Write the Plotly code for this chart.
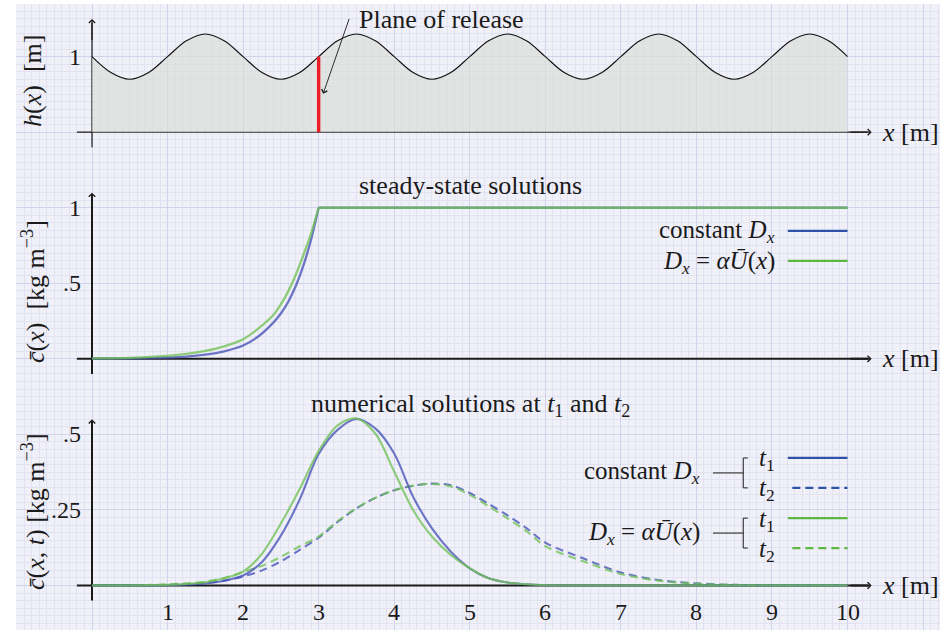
import plotly.graph_objects as go

# ---------------- data ----------------
# bed height h(x) [m]
h_x = [0, 0.25, 0.5, 0.75, 1, 1.25, 1.5, 1.75, 2, 2.25, 2.5, 2.75, 3, 3.25, 3.5, 3.75,
       4, 4.25, 4.5, 4.75, 5, 5.25, 5.5, 5.75, 6, 6.25, 6.5, 6.75, 7, 7.25, 7.5, 7.75,
       8, 8.25, 8.5, 8.75, 9, 9.25, 9.5, 9.75, 10]
h_val = [1.00, 0.79, 0.70, 0.79, 1.00, 1.21, 1.30, 1.21,
         1.00, 0.79, 0.70, 0.79, 1.00, 1.21, 1.30, 1.21,
         1.00, 0.79, 0.70, 0.79, 1.00, 1.21, 1.30, 1.21,
         1.00, 0.79, 0.70, 0.79, 1.00, 1.21, 1.30, 1.21,
         1.00, 0.79, 0.70, 0.79, 1.00, 1.21, 1.30, 1.21,
         1.00]
release_x = 3.0
release_h = 1.0

# steady-state concentration c(x) [kg m^-3]
ss_x = [0, 0.5, 1.0, 1.25, 1.5, 1.75, 2.0, 2.2, 2.4, 2.5, 2.6, 2.7, 2.8, 2.9, 3.0, 10.0]
ss_const = [0.001, 0.003, 0.009, 0.015, 0.028, 0.05, 0.088, 0.148, 0.24, 0.30, 0.38,
            0.485, 0.62, 0.79, 1.0, 1.0]
ss_var = [0.003, 0.007, 0.02, 0.033, 0.053, 0.083, 0.13, 0.2, 0.29, 0.36, 0.45,
          0.56, 0.69, 0.83, 1.0, 1.0]

# numerical solutions c(x, t) at t1 and t2
num_x = [0, 0.5, 1.0, 1.25, 1.5, 1.75, 2.0, 2.25, 2.5, 2.75, 3.0, 3.25, 3.5, 3.75, 4.0,
         4.25, 4.5, 4.75, 5.0, 5.25, 5.5, 5.75, 6.0, 6.5, 7.0, 7.5, 8.0, 8.5, 9.0, 10.0]
t1_const = [0, 0, 0.001, 0.003, 0.007, 0.016, 0.033, 0.078, 0.165, 0.285, 0.435, 0.515,
            0.551, 0.52, 0.437, 0.294, 0.189, 0.112, 0.057, 0.024, 0.01, 0.004, 0.001,
            0, 0, 0, 0, 0, 0, 0]
t1_var = [0, 0, 0.002, 0.005, 0.011, 0.024, 0.046, 0.105, 0.205, 0.32, 0.445, 0.53,
          0.553, 0.503, 0.377, 0.25, 0.162, 0.101, 0.057, 0.024, 0.01, 0.004, 0.001,
          0, 0, 0, 0, 0, 0, 0]
t2_const = [0, 0, 0.002, 0.004, 0.008, 0.016, 0.03, 0.05, 0.08, 0.118, 0.158, 0.21,
            0.255, 0.29, 0.315, 0.33, 0.337, 0.332, 0.306, 0.27, 0.232, 0.19, 0.142,
            0.09, 0.043, 0.018, 0.007, 0.002, 0.001, 0]
t2_var = [0, 0, 0.004, 0.007, 0.013, 0.025, 0.045, 0.065, 0.095, 0.13, 0.162, 0.212,
          0.256, 0.29, 0.315, 0.33, 0.336, 0.328, 0.3, 0.262, 0.222, 0.18, 0.13,
          0.08, 0.038, 0.016, 0.006, 0.002, 0.001, 0]

# tick labels
x_ticks = [1, 2, 3, 4, 5, 6, 7, 8, 9, 10]
h_ticks, h_tick_text = [1], ["1"]
ss_ticks, ss_tick_text = [0.5, 1], [".5", "1"]
num_ticks, num_tick_text = [0.25, 0.5], [".25", ".5"]

# ---------------- geometry & style ----------------
W, H = 940, 630
UNIT = 75.55            # pixels per grid square
X0_PX = 92.0            # pixel column of x = 0
GRID_LEFT, GRID_TOP = 16.0, 4.0
GRID_ROW0 = 585.5       # pixel row of a major grid line

# baseline row and grid squares per data unit for each panel
PANELS = {
    "h":   dict(base=132.2, spu=1.0, y="y2"),
    "ss":  dict(base=358.85, spu=2.0, y="y3"),
    "num": dict(base=585.5, spu=4.0, y="y4"),
}

FONT = "Liberation Serif, Times New Roman, serif"
FS = 26          # text size
FS_KEY = 25      # legend label size
FS_TICK = 24     # tick label size
INK = "#1a1a1a"
BLUE_KEY, GREEN_KEY = "#2f52a8", "#5cb843"
BLUE_LINE, GREEN_LINE = "rgba(70,82,182,0.78)", "rgba(112,194,86,0.78)"
DASH = "8px,5px"
BG = "#f0f0f8"
MINOR = "#e2e2f1"
MAJOR = "#d2d2ea"


def paper(px, py):
    return px / W, 1 - py / H


def yrange(key):
    p = PANELS[key]
    s = UNIT * p["spu"]
    return [(p["base"] - H) / s, p["base"] / s]


def yref_of(key):
    return PANELS[key]["y"]


fig = go.Figure()

# empty trace so the graph-paper subplot exists
fig.add_trace(go.Scatter(x=[], y=[], xaxis="x", yaxis="y", showlegend=False))

# ---- panel 1: bed profile ----
fig.add_trace(go.Scatter(x=h_x, y=h_val, xaxis="x2", yaxis="y2", mode="lines",
                         line=dict(color="#111111", width=1.1, shape="spline", smoothing=1),
                         fill="tozeroy", fillcolor="rgba(218,221,214,0.62)",
                         showlegend=False, hoverinfo="skip"))
fig.add_trace(go.Scatter(x=[release_x, release_x], y=[0, release_h], xaxis="x2", yaxis="y2",
                         mode="lines", line=dict(color="#ee1c24", width=3.4),
                         showlegend=False, hoverinfo="skip"))

# ---- panel 2: steady-state (smooth rise up to the release plane, then flat) ----
k_rel = ss_x.index(release_x)
for yy, col in [(ss_const, BLUE_LINE), (ss_var, GREEN_LINE)]:
    fig.add_trace(go.Scatter(x=ss_x[:k_rel + 1], y=yy[:k_rel + 1], xaxis="x2", yaxis="y3",
                             mode="lines", line=dict(color=col, width=2.3, shape="spline",
                                                     smoothing=0.8),
                             showlegend=False))
    fig.add_trace(go.Scatter(x=ss_x[k_rel:], y=yy[k_rel:], xaxis="x2", yaxis="y3",
                             mode="lines", line=dict(color=col, width=2.3),
                             showlegend=False))

# ---- panel 3: numerical solutions ----
for yy, col, dash in [(t2_const, BLUE_LINE, DASH), (t2_var, GREEN_LINE, DASH),
                      (t1_const, BLUE_LINE, "solid"), (t1_var, GREEN_LINE, "solid")]:
    fig.add_trace(go.Scatter(x=num_x, y=yy, xaxis="x2", yaxis="y4", mode="lines",
                             line=dict(color=col, width=2.1, dash=dash,
                                       shape="spline", smoothing=0.9),
                             showlegend=False))

shapes = []
annotations = []

# graph-paper background
shapes.append(dict(type="rect", xref="paper", yref="paper", layer="below",
                   x0=GRID_LEFT / W, x1=1, y0=0, y1=1 - GRID_TOP / H,
                   fillcolor=BG, line=dict(width=0)))


def text(px, py, s, size=FS, xanchor="center", angle=0):
    x, y = paper(px, py)
    annotations.append(dict(x=x, y=y, xref="paper", yref="paper", text=s, showarrow=False,
                            xanchor=xanchor, yanchor="middle", textangle=angle,
                            font=dict(family=FONT, size=size, color=INK)))


def arrow_head(xref, yref, x, y, ax, ay, width, size):
    annotations.append(dict(x=x, y=y, ax=ax, ay=ay, xref=xref, yref=yref,
                            axref=xref, ayref=yref, text="", showarrow=True,
                            arrowhead=4, arrowsize=size, arrowwidth=width,
                            arrowcolor=INK, standoff=0))


# axes with arrow tips
X_LEFT, X_TIP = -0.2, 10.32
axis_spec = {"h": (-0.2, 1.5, 1.2, 1.0), "ss": (-0.1, 1.1, 2.0, 0.62),
             "num": (-0.05, 0.55, 2.0, 0.62)}
for key, (ybot, ytip, lw, hs) in axis_spec.items():
    yr = yref_of(key)
    unit = 1.0 / PANELS[key]["spu"]
    shapes.append(dict(type="line", xref="x2", yref=yr, layer="below",
                       x0=X_LEFT, x1=X_TIP - 0.05, y0=0, y1=0, line=dict(color=INK, width=lw)))
    shapes.append(dict(type="line", xref="x2", yref=yr, layer="below",
                       x0=0, x1=0, y0=ybot, y1=ytip - 0.05 * unit, line=dict(color=INK, width=lw)))
    arrow_head("x2", yr, X_TIP, 0, X_TIP - 0.3, 0, lw, hs)
    arrow_head("x2", yr, 0, ytip, 0, ytip - 0.3 * unit, lw, hs)
    text(880, PANELS[key]["base"], "<i>x</i>\u00a0[m]", xanchor="left")

# y tick labels
for key, vals, labs in [("h", h_ticks, h_tick_text), ("ss", ss_ticks, ss_tick_text),
                        ("num", num_ticks, num_tick_text)]:
    for v, lab in zip(vals, labs):
        annotations.append(dict(x=0, y=v, xref="x2", yref=yref_of(key), text=lab,
                                showarrow=False, xanchor="right", yanchor="middle",
                                xshift=-9, font=dict(family=FONT, size=FS_TICK, color=INK)))
# x tick labels
for v in x_ticks:
    annotations.append(dict(x=v, y=0, xref="x2", yref="y4", text=str(v), showarrow=False,
                            xanchor="center", yanchor="middle", yshift=-26,
                            font=dict(family=FONT, size=FS_TICK, color=INK)))

# axis titles
text(33, 81, "<i>h</i>(<i>x</i>)\u00a0\u00a0[m]", angle=-90)
text(33, 292, "<i>c\u0304</i>(<i>x</i>)\u00a0\u00a0[kg m<sup>\u22123</sup>]", angle=-90)
text(33, 512, "<i>c\u0304</i>(<i>x</i>, <i>t</i>)\u00a0[kg m<sup>\u22123</sup>]", angle=-90)

# panel titles
text(470, 185, "steady-state solutions")
text(470, 405, "numerical solutions at <i>t</i><sub>1</sub> and <i>t</i><sub>2</sub>")

# release annotation
annotations.append(dict(x=3.06, y=0.51, ax=3.41, ay=1.52, xref="x2", yref="y2",
                        axref="x2", ayref="y2", text="", showarrow=True, arrowhead=4,
                        arrowsize=1.3, arrowwidth=0.9, arrowcolor=INK, standoff=0))
text(357, 19, "Plane of release", xanchor="left")

# legend, panel 2
DX = "<i>D</i><sub><i>x</i></sub>"
DXU = DX + " = <i>\u03b1\u016a</i>(<i>x</i>)"
text(777, 231, "constant " + DX, size=FS_KEY, xanchor="right")
text(777, 262, DXU, size=FS_KEY, xanchor="right")
KEY_X0, KEY_X1 = 9.21, 10.0
for yv, col in [(0.847, BLUE_KEY), (0.649, GREEN_KEY)]:
    shapes.append(dict(type="line", xref="x2", yref="y3", x0=KEY_X0, x1=KEY_X1,
                       y0=yv, y1=yv, line=dict(color=col, width=2.2)))

# legend, panel 3 (bracketed t1 / t2 keys)
groups = [("constant " + DX, BLUE_KEY, 0.422, 0.323), (DXU, GREEN_KEY, 0.223, 0.124)]
for label, col, y1v, y2v in groups:
    mid = (y1v + y2v) / 2
    mid_px = PANELS["num"]["base"] - mid * UNIT * 4
    text(702, mid_px, label, size=FS_KEY, xanchor="right")
    shapes.append(dict(type="line", xref="x2", yref="y4", x0=8.22, x1=8.62, y0=mid, y1=mid,
                       line=dict(color=INK, width=1)))
    shapes.append(dict(type="line", xref="x2", yref="y4", x0=8.62, x1=8.62, y0=y2v, y1=y1v,
                       line=dict(color=INK, width=1)))
    for yv, tl, dash, xs in [(y1v, "<i>t</i><sub>1</sub>", "solid", KEY_X0),
                             (y2v, "<i>t</i><sub>2</sub>", DASH, 9.27)]:
        shapes.append(dict(type="line", xref="x2", yref="y4", x0=8.62, x1=8.68, y0=yv, y1=yv,
                           line=dict(color=INK, width=1)))
        shapes.append(dict(type="line", xref="x2", yref="y4", x0=xs, x1=KEY_X1, y0=yv, y1=yv,
                           line=dict(color=col, width=2.2, dash=dash)))
        ypx = PANELS["num"]["base"] - yv * UNIT * 4
        text(757, ypx + 2, tl, size=FS_KEY, xanchor="left")

hidden = dict(showgrid=False, zeroline=False, showline=False, showticklabels=False,
              ticks="", fixedrange=True)

fig.update_layout(
    width=W, height=H, autosize=False,
    margin=dict(l=0, r=0, t=0, b=0, pad=0),
    paper_bgcolor="white", plot_bgcolor="rgba(0,0,0,0)",
    showlegend=False,
    font=dict(family=FONT, color=INK),
    xaxis=dict(domain=[GRID_LEFT / W, 1], anchor="y",
               range=[(GRID_LEFT - X0_PX) / UNIT, (W - X0_PX) / UNIT],
               showgrid=True, gridcolor=MAJOR, gridwidth=1, tick0=0, dtick=1,
               minor=dict(showgrid=True, gridcolor=MINOR, gridwidth=1, tick0=0, dtick=0.1),
               zeroline=False, showline=False, showticklabels=False, ticks="", fixedrange=True),
    yaxis=dict(domain=[0, 1 - GRID_TOP / H], anchor="x",
               range=[(GRID_ROW0 - H) / UNIT, (GRID_ROW0 - GRID_TOP) / UNIT],
               showgrid=True, gridcolor=MAJOR, gridwidth=1, tick0=0, dtick=1,
               minor=dict(showgrid=True, gridcolor=MINOR, gridwidth=1, tick0=0, dtick=0.1),
               zeroline=False, showline=False, showticklabels=False, ticks="", fixedrange=True),
    xaxis2=dict(domain=[0, 1], anchor="y2", range=[-X0_PX / UNIT, (W - X0_PX) / UNIT], **hidden),
    yaxis2=dict(domain=[0, 1], anchor="x2", range=yrange("h"), **hidden),
    yaxis3=dict(domain=[0, 1], anchor="x2", range=yrange("ss"), **hidden),
    yaxis4=dict(domain=[0, 1], anchor="x2", range=yrange("num"), **hidden),
    shapes=shapes,
    annotations=annotations,
    hovermode=False,
)

fig.write_html("out.html", config={"displayModeBar": False, "staticPlot": True})
